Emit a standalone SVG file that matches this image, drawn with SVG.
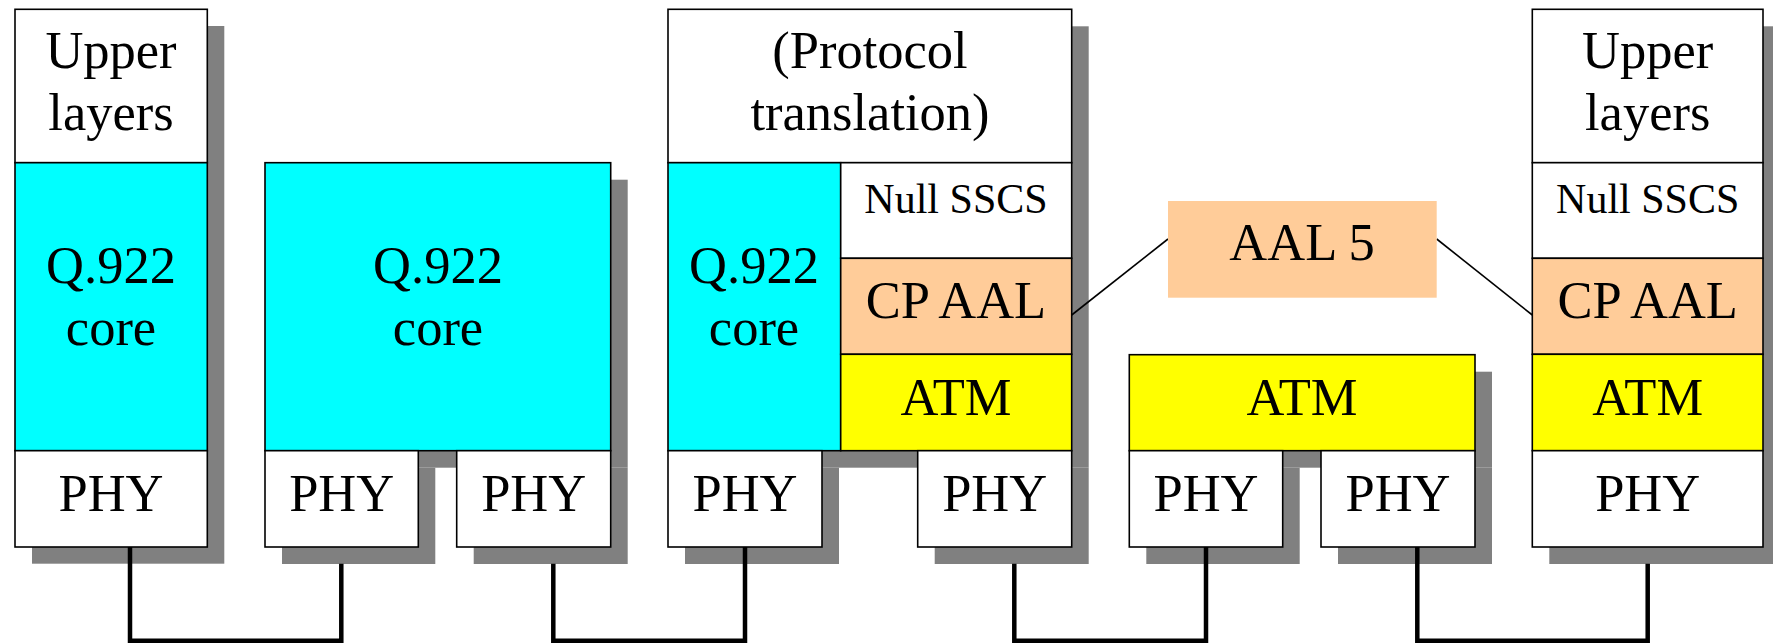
<svg xmlns="http://www.w3.org/2000/svg" width="1773" height="643" viewBox="0 0 1773 643">
<style>
.sh{fill:#808080;stroke:none}
.b{stroke:#000;stroke-width:1.6}
.w{fill:#fff}
.c{fill:#00ffff}
.p{fill:#ffcc99}
.y{fill:#ffff00}
text{font-family:"Liberation Serif","Times New Roman",serif;font-size:52.5px;text-anchor:middle;fill:#000}
text.s{font-size:42px}
.wire{fill:none;stroke:#000;stroke-width:4.5;stroke-linejoin:miter}
.thin{fill:none;stroke:#000;stroke-width:1.6}
</style>

<g id="shadows">
<rect class="sh" x="32" y="26" width="192.3" height="537.7"/>
<rect class="sh" x="282" y="179.7" width="345.7" height="288"/>
<rect class="sh" x="282" y="467.7" width="153.3" height="96.3"/>
<rect class="sh" x="473.7" y="467.7" width="154" height="96.3"/>
<rect class="sh" x="685" y="26.3" width="403.7" height="441.4"/>
<rect class="sh" x="685" y="467.7" width="154" height="96.3"/>
<rect class="sh" x="934.7" y="467.7" width="154" height="96.3"/>
<rect class="sh" x="1146.3" y="371.7" width="345.7" height="96"/>
<rect class="sh" x="1146.3" y="467.7" width="153.4" height="96.3"/>
<rect class="sh" x="1338" y="467.7" width="154" height="96.3"/>
<rect class="sh" x="1549.3" y="26.3" width="230.7" height="537.7"/>
</g>

<g id="connectors">
<path class="wire" d="M130,547 V640.7 H341.3 V563.7"/>
<path class="wire" d="M553.3,563.7 V640.7 H745 V547"/>
<path class="wire" d="M1014.3,563.7 V640.7 H1206 V547"/>
<path class="wire" d="M1417.3,547 V640.7 H1647.7 V563.7"/>
<line class="thin" x1="1071.7" y1="315" x2="1168" y2="239"/>
<line class="thin" x1="1436.7" y1="239" x2="1532.3" y2="315"/>
</g>

<g id="stack1">
<rect class="b w" x="15" y="9.3" width="192.3" height="153.4"/>
<text x="111" y="68.3">Upper</text>
<text x="111" y="130">layers</text>
<rect class="b c" x="15" y="162.7" width="192.3" height="288"/>
<text x="111" y="283.3">Q.922</text>
<text x="111" y="345">core</text>
<rect class="b w" x="15" y="450.7" width="192.3" height="96.3"/>
<text x="111" y="511">PHY</text>
</g>

<g id="stack2">
<rect class="b c" x="265" y="162.7" width="345.7" height="288"/>
<text x="438" y="283.3">Q.922</text>
<text x="438" y="345">core</text>
<rect class="b w" x="265" y="450.7" width="153.3" height="96.3"/>
<text x="341.7" y="511">PHY</text>
<rect class="b w" x="456.7" y="450.7" width="154" height="96.3"/>
<text x="533.7" y="511">PHY</text>
</g>

<g id="stack3">
<rect class="b w" x="668" y="9.3" width="403.7" height="153.4"/>
<text x="870" y="68.3">(Protocol</text>
<text x="870" y="130">translation)</text>
<rect class="b c" x="668" y="162.7" width="172.7" height="288"/>
<text x="754" y="283.3">Q.922</text>
<text x="754" y="345">core</text>
<rect class="b w" x="840.7" y="162.7" width="231" height="95.6"/>
<text class="s" x="956" y="213.3">Null SSCS</text>
<rect class="b p" x="840.7" y="258.3" width="231" height="96"/>
<text x="956" y="318.3">CP AAL</text>
<rect class="b y" x="840.7" y="354.3" width="231" height="96.4"/>
<text x="956" y="415">ATM</text>
<rect class="b w" x="668" y="450.7" width="154" height="96.3"/>
<text x="745" y="511">PHY</text>
<rect class="b w" x="917.7" y="450.7" width="154" height="96.3"/>
<text x="994.7" y="511">PHY</text>
</g>

<g id="aal5">
<rect class="p" x="1168" y="201" width="268.7" height="96.7"/>
<text x="1302" y="260">AAL 5</text>
</g>

<g id="stack4">
<rect class="b y" x="1129.3" y="354.7" width="345.7" height="96"/>
<text x="1302" y="415">ATM</text>
<rect class="b w" x="1129.3" y="450.7" width="153.4" height="96.3"/>
<text x="1206" y="511">PHY</text>
<rect class="b w" x="1321" y="450.7" width="154" height="96.3"/>
<text x="1398" y="511">PHY</text>
</g>

<g id="stack5">
<rect class="b w" x="1532.3" y="9.3" width="230.7" height="153.4"/>
<text x="1647.7" y="68.3">Upper</text>
<text x="1647.7" y="130">layers</text>
<rect class="b w" x="1532.3" y="162.7" width="230.7" height="95.6"/>
<text class="s" x="1647.7" y="213.3">Null SSCS</text>
<rect class="b p" x="1532.3" y="258.3" width="230.7" height="96"/>
<text x="1647.7" y="318.3">CP AAL</text>
<rect class="b y" x="1532.3" y="354.3" width="230.7" height="96.4"/>
<text x="1647.7" y="415">ATM</text>
<rect class="b w" x="1532.3" y="450.7" width="230.7" height="96.3"/>
<text x="1647.7" y="511">PHY</text>
</g>
</svg>
